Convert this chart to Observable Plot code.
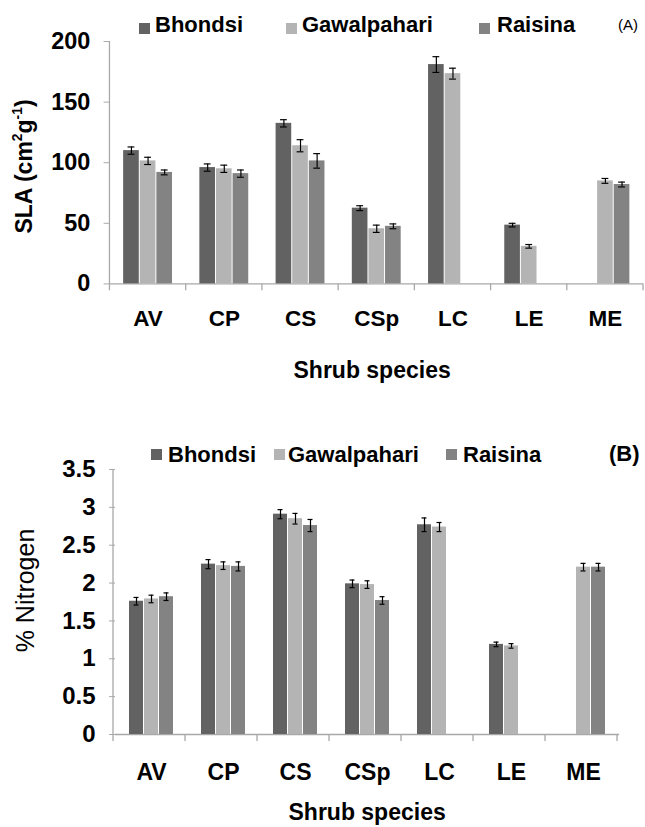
<!DOCTYPE html>
<html><head><meta charset="utf-8">
<script src="https://cdn.jsdelivr.net/npm/d3@7"></script>
<script src="https://cdn.jsdelivr.net/npm/@observablehq/plot@0.6"></script>
<style>
body{margin:0;background:#fff;overflow:hidden;font-family:"Liberation Sans",Arial,sans-serif}
#wrap{position:relative;width:645px;height:827px;overflow:hidden;background:#fff}
.abs{position:absolute;white-space:nowrap;line-height:1;color:#000}
.b{font-weight:bold}
.sw{position:absolute}
sup{font-size:60%;line-height:0;vertical-align:0.7em}
</style></head><body><div id="wrap"></div>
<script>
// ---- data ----
const species = ["AV","CP","CS","CSp","LC","LE","ME"];
const sites = ["Bhondsi","Gawalpahari","Raisina"];
const siteColors = ["#626262","#b4b4b4","#838383"];

const slaBhondsi     = [110, 96, 132.5, 62.5, 181, 48.5, null];
const slaBhondsiErr  = [3, 3, 3, 2, 6.5, 1.5, null];
const slaGawal       = [101.5, 95, 114, 45.5, 173.5, 31, 85];
const slaGawalErr    = [3, 3, 5, 3, 4.5, 1.5, 2];
const slaRaisina     = [92, 91, 101.5, 47.5, null, null, 82];
const slaRaisinaErr  = [2, 3, 6, 2, null, null, 2];
const slaTicks = [0, 50, 100, 150, 200];

const nBhondsi     = [1.76, 2.25, 2.91, 1.99, 2.77, 1.19, null];
const nBhondsiErr  = [0.05, 0.06, 0.06, 0.05, 0.09, 0.03, null];
const nGawal       = [1.79, 2.23, 2.85, 1.98, 2.74, 1.17, 2.21];
const nGawalErr    = [0.05, 0.05, 0.07, 0.05, 0.06, 0.03, 0.05];
const nRaisina     = [1.82, 2.22, 2.76, 1.77, null, null, 2.21];
const nRaisinaErr  = [0.05, 0.06, 0.08, 0.05, null, null, 0.05];
const nTicks = [0, 0.5, 1, 1.5, 2, 2.5, 3, 3.5];

function makeRows(vals, errs) {
  const rows = [];
  species.forEach((s, i) => sites.forEach((site, j) => {
    const v = vals[j][i];
    if (v == null) return;
    rows.push({species: s, site, value: v, err: errs[j][i]});
  }));
  return rows;
}
const rowsA = makeRows([slaBhondsi, slaGawal, slaRaisina], [slaBhondsiErr, slaGawalErr, slaRaisinaErr]);
const rowsB = makeRows([nBhondsi, nGawal, nRaisina], [nBhondsiErr, nGawalErr, nRaisinaErr]);

const axisGray = "#a8a8a8";
const wrap = document.getElementById("wrap");

function panel(rows, yTicks, o) {
  const chart = Plot.plot({
    width: o.width, height: o.height,
    marginTop: o.mt, marginBottom: o.mb, marginLeft: o.ml, marginRight: o.mr,
    style: {fontFamily: "'Liberation Sans', Arial, sans-serif", fontSize: "22px", fontWeight: "bold", color: "#000", background: "transparent", overflow: "visible"},
    facet: {data: rows, x: "species"},
    fx: {domain: species, padding: 0, label: null, axis: "bottom", tickSize: 0, tickPadding: o.fxPad},
    x: {domain: sites, axis: null, paddingInner: 0.04, paddingOuter: 0.8},
    y: {domain: [yTicks[0], yTicks[yTicks.length - 1]], ticks: yTicks, label: null, tickSize: 6, tickPadding: 14, tickFormat: d => String(d)},
    color: {domain: sites, range: siteColors},
    marks: [
      Plot.ruleY([0], {stroke: axisGray, strokeWidth: 1.3}),
      Plot.barY(rows, {x: "site", y: "value", fill: "site"}),
      Plot.ruleX(rows, {x: "site", y1: d => d.value - d.err, y2: d => d.value + d.err, stroke: "#000", strokeWidth: 1.2}),
      Plot.tickY(rows, {x: "site", y: d => d.value - d.err, stroke: "#000", strokeWidth: 1.2, insetLeft: 4.5, insetRight: 4.5}),
      Plot.tickY(rows, {x: "site", y: d => d.value + d.err, stroke: "#000", strokeWidth: 1.2, insetLeft: 4.5, insetRight: 4.5})
    ]
  });
  const svg = d3.select(chart);
  svg.selectAll("[aria-label='y-axis tick'] path, [aria-label='y-axis tick'] line").attr("stroke", axisGray);
  svg.selectAll("[aria-label='y-axis tick label']").attr("font-size", 24);
  svg.selectAll("[aria-label='fx-axis tick label']").attr("font-size", 23);
  const fx = chart.scale("fx"), y = chart.scale("y");
  const y0 = y.apply(0), yTop = y.apply(yTicks[yTicks.length - 1]);
  const x0 = fx.range[0];
  const g = svg.append("g").attr("stroke", axisGray).attr("stroke-width", 1.3);
  g.append("line").attr("x1", x0).attr("x2", x0).attr("y1", yTop).attr("y2", y0);
  for (let i = 0; i <= species.length; i++) {
    const xb = fx.range[0] + i * fx.step;
    g.append("line").attr("x1", xb).attr("x2", xb).attr("y1", y0).attr("y2", y0 + 7);
  }
  chart.style.position = "absolute";
  chart.style.left = "0px";
  chart.style.top = o.top + "px";
  wrap.appendChild(chart);
}

panel(rowsA, slaTicks, {top: 0, width: 660, height: 395, mt: 42, mb: 105, ml: 112, mr: 2, fxPad: 27});
panel(rowsB, nTicks, {top: 440, width: 645, height: 387, mt: 29, mb: 93, ml: 113, mr: 24, fxPad: 29});

function addText(html, cls, left, top, size, extra) {
  const d = document.createElement("div");
  d.className = "abs " + cls;
  d.innerHTML = html;
  d.style.left = left + "px";
  d.style.top = top + "px";
  d.style.fontSize = size + "px";
  if (extra) Object.assign(d.style, extra);
  wrap.appendChild(d);
  return d;
}
function addSwatch(color, left, top, size) {
  const s = document.createElement("div");
  s.className = "sw";
  Object.assign(s.style, {left: left + "px", top: top + "px", width: size + "px", height: size + "px", background: color});
  wrap.appendChild(s);
}
// legends
const legA = {sw: [139, 286, 479], tx: [155, 302, 497], top: 14, swTop: 23};
const legB = {sw: [151, 274, 446], tx: [168, 288, 463], top: 444, swTop: 449};
[legA, legB].forEach(L => sites.forEach((s, j) => {
  addSwatch(siteColors[j], L.sw[j], L.swTop, 11);
  addText(s, "b", L.tx[j], L.top, 22);
}));
addText("(A)", "", 618, 17, 15);
addText("(B)", "b", 609, 443, 22);

// axis titles
function centered(html, cls, cx, cy, size, rotate) {
  const d = addText(html, cls, 0, 0, size);
  const w = d.offsetWidth, h = d.offsetHeight;
  d.style.left = (cx - w / 2) + "px";
  d.style.top = (cy - h / 2) + "px";
  if (rotate) d.style.transform = "rotate(-90deg)";
}
centered("SLA (cm<sup>2</sup>g<sup>-1</sup>)", "b", 24, 166, 23, true);
centered("% Nitrogen", "", 26, 590, 25, true);
centered("Shrub species", "b", 372, 370, 23, false);
centered("Shrub species", "b", 367, 812, 23, false);
</script></body></html>
